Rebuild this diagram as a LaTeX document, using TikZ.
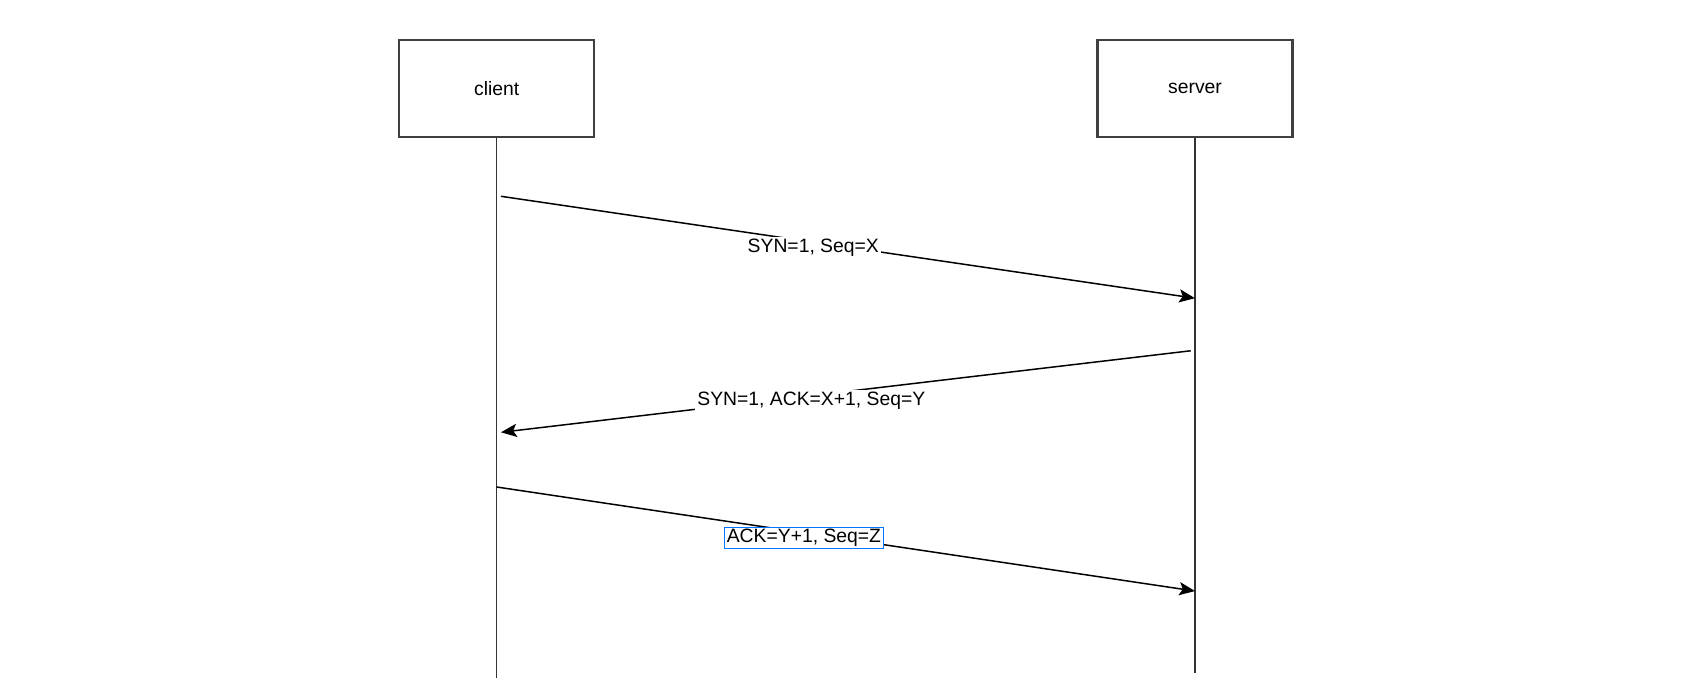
\documentclass[tikz,border=0pt]{standalone}
\usepackage{fontspec}
\setmainfont{Liberation Sans}
\usetikzlibrary{arrows.meta,positioning}

\tikzset{
  party/.style={draw=black!75,line width=1.2pt,fill=white,minimum width=3.9cm,minimum height=1.95cm,font=\fontsize{11}{13}\selectfont},
  msg/.style={line width=0.85pt,-{Stealth[length=9pt,width=7.5pt,inset=2pt]}},
  msglabel/.style={fill=white,inner sep=1.2pt,yshift=-3pt,font=\fontsize{11}{13}\selectfont},
  lifeline/.style={draw=black!80,line width=0.9pt}
}

\begin{document}
\begin{tikzpicture}[x=0.021454cm,y=-0.021454cm]
\useasboundingbox[fill=white] (0,0) rectangle (1568,640);

% Parties
\node[party] (client) at (463,82.5) {client};
\node[party] (server) at (1114,82.5) {server};

% Lifelines
\coordinate (clientend) at (463,632);
\coordinate (serverend) at (1114,627);
\draw[lifeline] (client.south) -- (clientend);
\draw[lifeline] (server.south) -- (serverend);

% Message end points
\coordinate (c1) at (467,183);
\coordinate (s1) at (1114,278);
\coordinate (s2) at (1110,327);
\coordinate (c2) at (467,403);
\coordinate (c3) at (463,454);
\coordinate (s3) at (1114,551);

% Handshake
\draw[msg] (c1) -- (s1) node[msglabel,pos=0.45] (syn) {SYN=1, Seq=X};
\draw[msg] (s2) -- (c2) node[msglabel,pos=0.55] (synack) {SYN=1, ACK=X+1, Seq=Y};
\draw[msg] (c3) -- (s3) node[msglabel,pos=0.44,draw=blue!55!cyan,line width=0.6pt] (ack) {ACK=Y+1, Seq=Z};
\end{tikzpicture}
\end{document}
